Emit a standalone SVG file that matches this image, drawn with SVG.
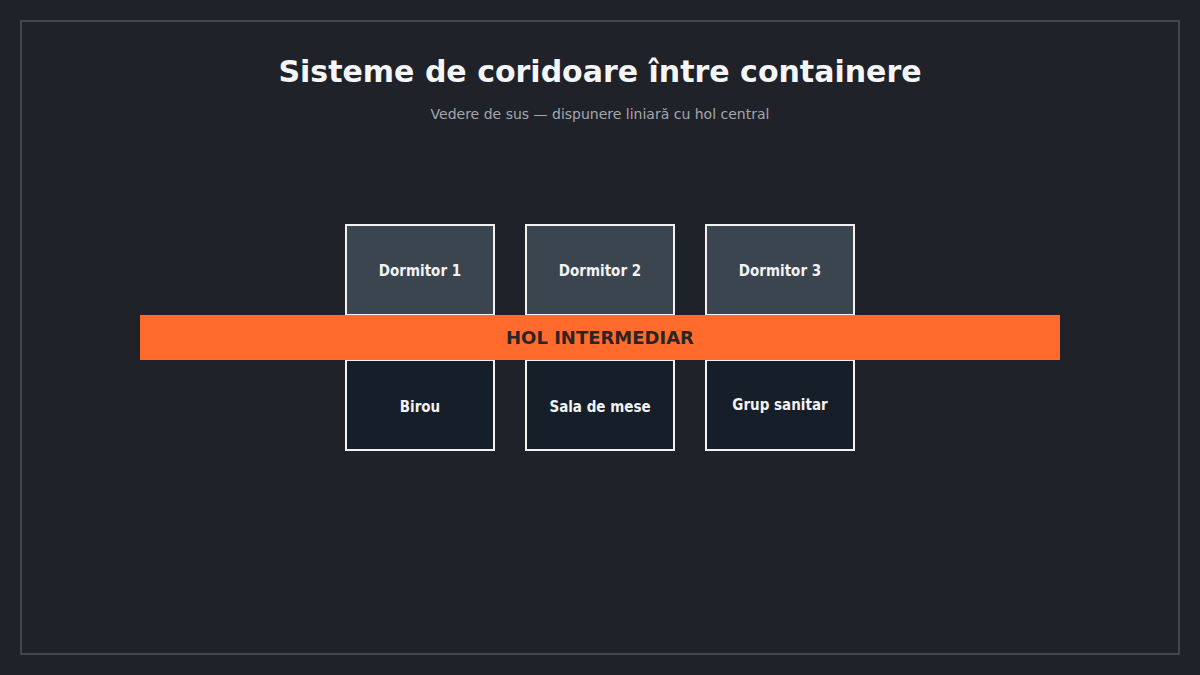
<svg xmlns="http://www.w3.org/2000/svg" width="1200" height="675" viewBox="0 0 1200 675">
<style>
.title{font-family:"DejaVu Sans",sans-serif;font-weight:bold;font-size:30px;fill:#f5f6f7;text-anchor:middle}
.sub{font-family:"DejaVu Sans",sans-serif;font-size:14px;fill:#a3a7ad;text-anchor:middle}
.room rect{stroke:#f2f2f2;stroke-width:2}
.top rect{fill:#3b4550}
.bot rect{fill:#161e2a}
.room text{font-family:"DejaVu Sans Condensed","DejaVu Sans",sans-serif;font-stretch:condensed;font-weight:bold;font-size:15px;fill:#f2f2f2;text-anchor:middle}
.hall text{font-family:"DejaVu Sans",sans-serif;font-weight:bold;font-size:18px;fill:#2a2522;text-anchor:middle}
</style>
<rect width="1200" height="675" fill="#1f2228"/>
<rect x="21" y="21" width="1158" height="633" fill="none" stroke="#41474c" stroke-width="2"/>
<text class="title" x="600" y="82">Sisteme de coridoare între containere</text>
<text class="sub" x="600" y="119">Vedere de sus — dispunere liniară cu hol central</text>
<g id="dormitor1" class="room top"><rect x="346" y="225" width="148" height="90"/><text x="420" y="275.5">Dormitor 1</text></g>
<g id="dormitor2" class="room top"><rect x="526" y="225" width="148" height="90"/><text x="600" y="275.5">Dormitor 2</text></g>
<g id="dormitor3" class="room top"><rect x="706" y="225" width="148" height="90"/><text x="780" y="275.5">Dormitor 3</text></g>
<g id="birou" class="room bot"><rect x="346" y="360" width="148" height="90"/><text x="420" y="411.5">Birou</text></g>
<g id="sala" class="room bot"><rect x="526" y="360" width="148" height="90"/><text x="600" y="411.5">Sala de mese</text></g>
<g id="grup" class="room bot"><rect x="706" y="360" width="148" height="90"/><text x="780" y="409.5">Grup sanitar</text></g>
<g id="hol" class="hall"><rect x="140" y="315" width="920" height="45" fill="#ff6b2c"/><text x="600" y="344">HOL INTERMEDIAR</text></g>
<g id="connectors"></g>
</svg>
